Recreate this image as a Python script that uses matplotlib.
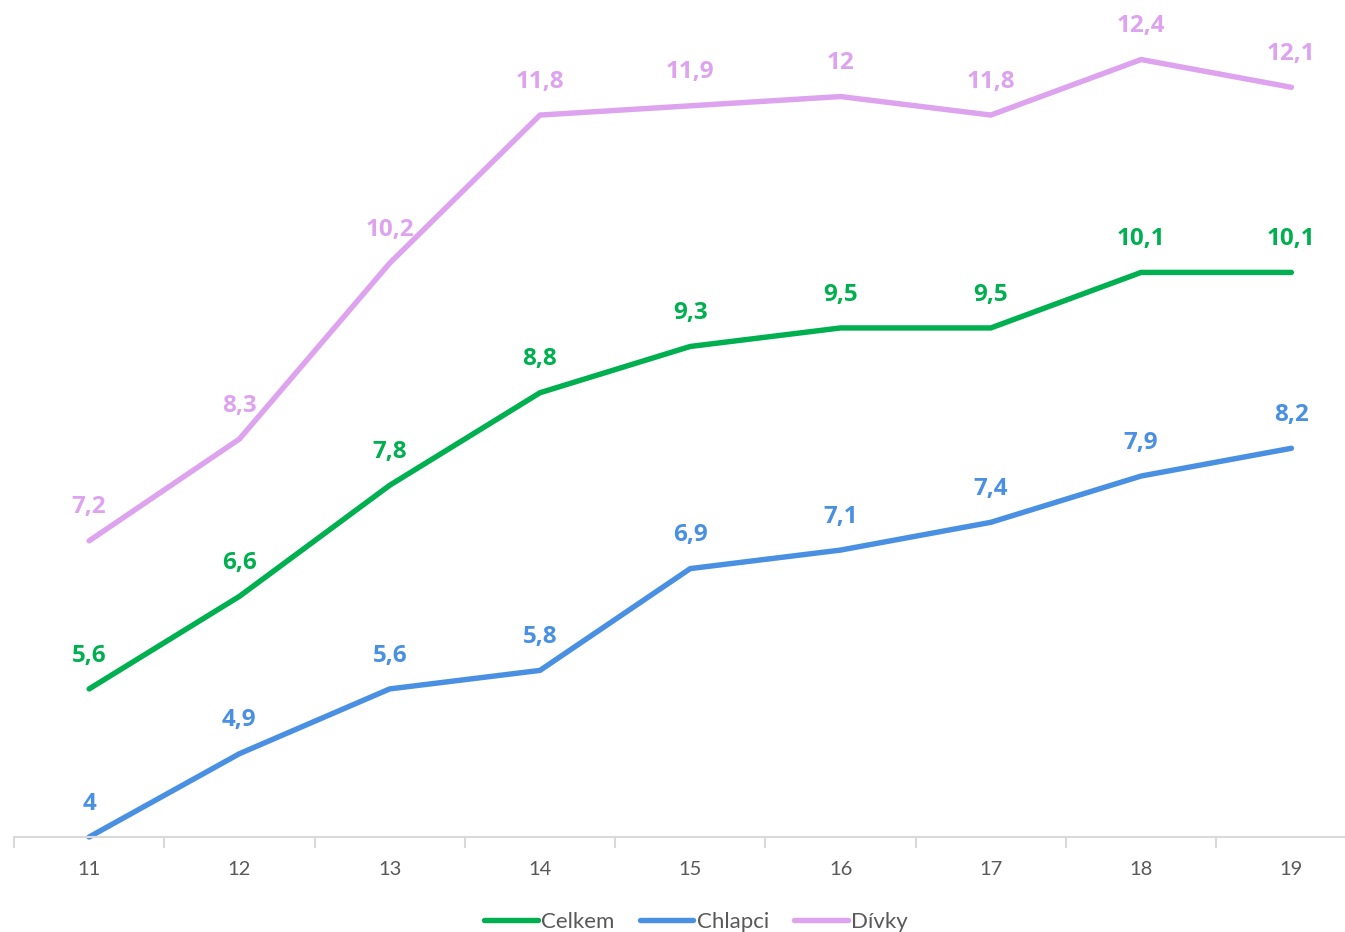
import numpy as np
import matplotlib
matplotlib.use("Agg")
from matplotlib import pyplot as plt

# data
years = ["11", "12", "13", "14", "15", "16", "17", "18", "19"]
celkem = [5.6, 6.6, 7.8, 8.8, 9.3, 9.5, 9.5, 10.1, 10.1]
chlapci = [4, 4.9, 5.6, 5.8, 6.9, 7.1, 7.4, 7.9, 8.2]
divky = [7.2, 8.3, 10.2, 11.8, 11.9, 12, 11.8, 12.4, 12.1]

series_names = ["Celkem", "Chlapci", "Dívky"]
colors = ["#00B050", "#4A90E2", "#DDA3EE"]

plt.rcParams['font.family'] = ['Lato', 'DejaVu Sans']

fig = plt.figure(figsize=(13.45, 9.32), dpi=100)
ax = fig.add_axes([14 / 1345, 1 - 837 / 932, 1 - 14 / 1345, (837 - 4) / 932])

x = np.arange(len(years))


def fmt(v):
    s = ("%g" % v)
    return s.replace(".", ",")


for name, vals, c in zip(series_names, [celkem, chlapci, divky], colors):
    ax.plot(x, vals, color=c, linewidth=3.9, solid_capstyle='round',
            solid_joinstyle='round', label=name, clip_on=False)
    for xi, v in zip(x, vals):
        ax.annotate(fmt(v), (xi, v), xytext=(0, 24), textcoords='offset points',
                    ha='center', va='center', color=c, fontsize=17.5,
                    fontweight='bold', family=['Open Sans', 'DejaVu Sans'])

# axis styling
for s in ['top', 'right', 'left']:
    ax.spines[s].set_visible(False)
ax.spines['bottom'].set_color('#D9D9D9')
ax.spines['bottom'].set_linewidth(1.5)
ax.set_yticks([])
ax.set_xticks(x)
ax.set_xticklabels(years, fontsize=14.5, color='#595959')
ax.tick_params(axis='x', which='major', length=0, pad=17)
ax.set_xticks(np.arange(-0.5, len(years), 1), minor=True)
ax.tick_params(axis='x', which='minor', length=8, width=1.5, color='#D9D9D9')

ax.set_xlim(-0.5, (1345 - 89) / 150.3)
ax.set_ylim(4, 13)

fig.legend(loc='lower center', ncol=3, frameon=False, fontsize=16,
           bbox_to_anchor=(0.5175, -0.021), handlelength=2.4, handletextpad=0.15,
           columnspacing=1.15, labelcolor='#595959')

fig.savefig("out.png", dpi=100)
